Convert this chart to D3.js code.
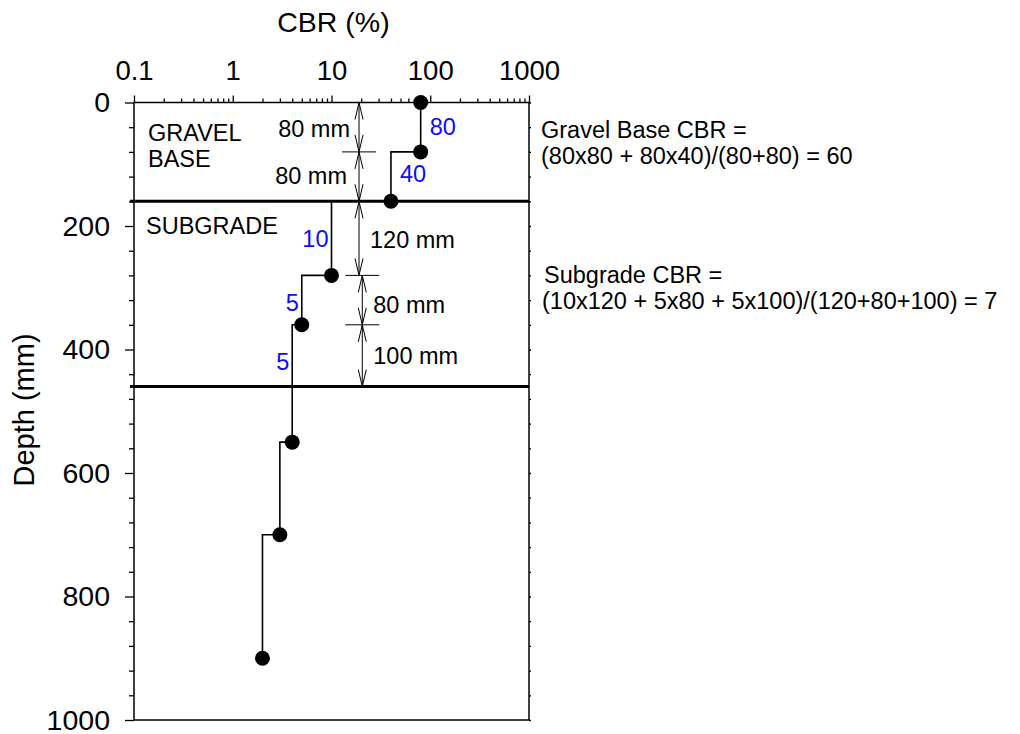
<!DOCTYPE html>
<html>
<head>
<meta charset="utf-8">
<script src="https://cdn.jsdelivr.net/npm/d3@7/dist/d3.min.js"></script>
<style>
  body { margin: 0; background: #fff; }
  svg { display: block; font-family: "Liberation Sans", Arial, sans-serif; }
</style>
</head>
<body>
<div id="chart"></div>
<script>
// measured points: CBR (%) against depth (mm)
const cbr = [80, 80, 40, 10, 5, 4, 3, 2];
const depth = [0, 80, 160, 280, 360, 550, 700, 900];

// layer boundaries
const layerBounds = [160, 460];

// thickness segments used in the weighted average
const segTop = [0, 80, 160, 280, 360];
const segBottom = [80, 160, 280, 360, 460];
const segLabels = ["80 mm", "80 mm", "120 mm", "80 mm", "100 mm"];
const segCbrLabels = ["80", "40", "10", "5", "5"];
const segLineCbr = [80, 40, 10, 5, 4];

const xTickValues = [0.1, 1, 10, 100, 1000];
const yTickValues = [0, 200, 400, 600, 800, 1000];

const W = 1020, H = 734;
const x = d3.scaleLog().domain([0.1, 1000]).range([134, 529]);
const y = d3.scaleLinear().domain([0, 1000]).range([102.5, 720]);

const svg = d3.select("#chart").append("svg")
  .attr("width", W)
  .attr("height", H);

// minor ticks on the log axis
const xMinor = [];
[0.1, 1, 10, 100].forEach(dec => {
  for (let k = 2; k <= 9; k++) xMinor.push(dec * k);
});
const yMinor = d3.range(0, 1001, 40).filter(v => v % 200 !== 0);

function styleAxis(size) {
  return g => {
    g.select(".domain").remove();
    g.selectAll("line").attr("stroke", "#000").attr("stroke-width", 1.3);
    g.selectAll("text").attr("fill", "#000").attr("font-size", size)
      .attr("font-family", "Liberation Sans, Arial, sans-serif");
  };
}

// top axis
svg.append("g")
  .attr("transform", `translate(0,${y(0)})`)
  .call(d3.axisTop(x).tickValues(xMinor).tickSize(4).tickFormat(""))
  .call(styleAxis(27.5));
svg.append("g")
  .attr("transform", `translate(0,${y(0)})`)
  .call(d3.axisTop(x).tickValues(xTickValues).tickSize(7).tickPadding(16).tickFormat(d3.format("~g")))
  .call(styleAxis(27.5));

// left axis
svg.append("g")
  .attr("transform", `translate(${x(0.1)},0)`)
  .call(d3.axisLeft(y).tickValues(yMinor).tickSize(5).tickFormat(""))
  .call(styleAxis(28.5));
svg.append("g")
  .attr("transform", `translate(${x(0.1)},0)`)
  .call(d3.axisLeft(y).tickValues(yTickValues).tickSize(9).tickPadding(15).tickFormat(d3.format("d")))
  .call(styleAxis(28.5));

// right side small ticks
svg.append("g")
  .attr("transform", `translate(${x(1000)},0)`)
  .call(d3.axisRight(y).tickValues(yMinor.concat(yTickValues)).tickSize(2).tickFormat(""))
  .call(styleAxis(27));

// frame
svg.append("rect")
  .attr("x", x(0.1))
  .attr("y", y(0))
  .attr("width", x(1000) - x(0.1))
  .attr("height", y(1000) - y(0))
  .attr("fill", "none")
  .attr("stroke", "#000")
  .attr("stroke-width", 1.5);

// axis titles
svg.append("text")
  .attr("x", 333.5)
  .attr("y", 32)
  .attr("text-anchor", "middle")
  .attr("font-size", 28.5)
  .text("CBR (%)");

svg.append("text")
  .attr("transform", "translate(34,410) rotate(-90)")
  .attr("text-anchor", "middle")
  .attr("font-size", 29)
  .text("Depth (mm)");

// layer boundary lines
svg.selectAll(".layer")
  .data(layerBounds)
  .join("line")
  .attr("class", "layer")
  .attr("x1", x(0.1) - 4)
  .attr("x2", x(1000))
  .attr("y1", d => y(d))
  .attr("y2", d => y(d))
  .attr("stroke", "#000")
  .attr("stroke-width", 3);

// step profile
const pts = cbr.map((c, i) => [c, depth[i]]);
const line = d3.line()
  .x(d => x(d[0]))
  .y(d => y(d[1]))
  .curve(d3.curveStepAfter);

svg.append("path")
  .datum(pts)
  .attr("d", line)
  .attr("fill", "none")
  .attr("stroke", "#000")
  .attr("stroke-width", 1.6);

svg.selectAll(".pt")
  .data(pts)
  .join("circle")
  .attr("class", "pt")
  .attr("cx", d => x(d[0]))
  .attr("cy", d => y(d[1]))
  .attr("r", 7.5)
  .attr("fill", "#000");

// dimension lines
const dimCbr = [19, 19, 19, 20.5, 20.5];
const dimG = svg.append("g").attr("stroke", "#000").attr("stroke-width", 1).attr("fill", "none");
segTop.forEach((t, i) => {
  const cx = x(dimCbr[i]);
  const y0 = y(t), y1 = y(segBottom[i]);
  dimG.append("line").attr("x1", cx).attr("x2", cx).attr("y1", y0).attr("y2", y1);
  dimG.append("path").attr("d", `M${cx - 4},${y0 + 17}L${cx},${y0}L${cx + 4},${y0 + 17}`);
  dimG.append("path").attr("d", `M${cx - 4},${y1 - 17}L${cx},${y1}L${cx + 4},${y1 - 17}`);
  if (!layerBounds.includes(t)) {
    dimG.append("line").attr("x1", cx - 17).attr("x2", cx + 17).attr("y1", y0).attr("y2", y0);
  }
});

// dimension labels
const dimLabelDepth = [56, 132, 236, 341, 424];
const dimLabelSide = ["left", "left", "right", "right", "right"];
segLabels.forEach((s, i) => {
  const cx = x(dimCbr[i]);
  svg.append("text")
    .attr("x", dimLabelSide[i] === "left" ? cx - 9 - (i === 1 ? 3 : 0) : cx + 11)
    .attr("y", y(dimLabelDepth[i]))
    .attr("text-anchor", dimLabelSide[i] === "left" ? "end" : "start")
    .attr("font-size", 23.5)
    .text(s);
});

// CBR value labels (blue)
const cbrLabelDepth = [53, 129, 234, 337, 433];
const cbrLabelSide = ["right", "right", "left", "left", "left"];
segCbrLabels.forEach((s, i) => {
  const cx = x(segLineCbr[i]);
  svg.append("text")
    .attr("x", cbrLabelSide[i] === "right" ? cx + 9 : cx - 3)
    .attr("y", y(cbrLabelDepth[i]))
    .attr("text-anchor", cbrLabelSide[i] === "right" ? "start" : "end")
    .attr("font-size", 23.5)
    .attr("fill", "#0a0aff")
    .text(s);
});

// layer names
svg.append("text").attr("x", 148).attr("y", 141).attr("font-size", 23.5).text("GRAVEL");
svg.append("text").attr("x", 148).attr("y", 167).attr("font-size", 23.5).text("BASE");
svg.append("text").attr("x", 146).attr("y", 234).attr("font-size", 23.5).text("SUBGRADE");

// calculation notes
const notes = [
  { x: 541, y: 138, t: "Gravel Base CBR =" },
  { x: 541, y: 164, t: "(80x80 + 80x40)/(80+80) = 60" },
  { x: 544, y: 283, t: "Subgrade CBR =" },
  { x: 542, y: 309, t: "(10x120 + 5x80 + 5x100)/(120+80+100) = 7" }
];
svg.selectAll(".note")
  .data(notes)
  .join("text")
  .attr("class", "note")
  .attr("x", d => d.x)
  .attr("y", d => d.y)
  .attr("font-size", 23.5)
  .text(d => d.t);
</script>
</body>
</html>
